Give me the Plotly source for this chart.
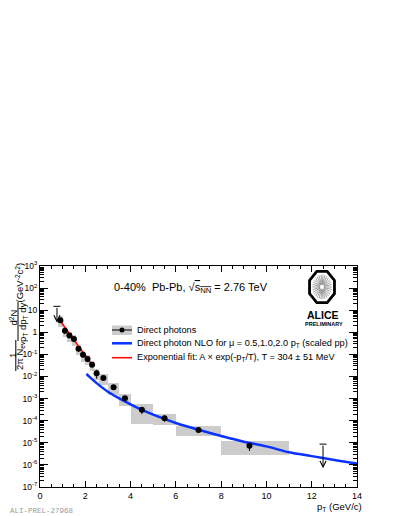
import numpy as np
import plotly.graph_objects as go

# ---------------- data ----------------
pt = [0.9, 1.1, 1.3, 1.5, 1.7, 1.9, 2.1, 2.3, 2.5, 2.8, 3.25, 3.75, 4.5, 5.5, 7.0, 9.25]
pt_lo = [0.8, 1.0, 1.2, 1.4, 1.6, 1.8, 2.0, 2.2, 2.4, 2.6, 3.0, 3.5, 4.0, 5.0, 6.0, 8.0]
pt_hi = [1.0, 1.2, 1.4, 1.6, 1.8, 2.0, 2.2, 2.4, 2.6, 3.0, 3.5, 4.0, 5.0, 6.0, 8.0, 11.0]
yield_vals = [3.5, 1.19, 0.71, 0.50, 0.18, 0.097, 0.062, 0.034, 0.014, 0.0085,
              0.0033, 0.00105, 3.1e-4, 1.3e-4, 3.8e-5, 7.3e-6]
stat_err = [0.5, 0.35, 0.15, 0.10, 0.05, 0.025, 0.015, 0.007, 0.006, 0.002,
            0.0006, 0.0002, 1.1e-4, 4e-5, 8e-6, 3e-6]
sys_err = [1.7, 0.6, 0.35, 0.25, 0.09, 0.05, 0.03, 0.017, 0.007, 0.0042,
           0.0018, 0.0006, 2.4e-4, 6.5e-5, 1.8e-5, 4.6e-6]

ul_pt = [0.75, 12.5]
ul_top = [15.0, 8.7e-6]
ul_tip = [2.7, 7.0e-7]

nlo_pt = [2.05, 2.2, 2.5, 3.0, 3.5, 4.0, 4.5, 5.0, 6.0, 7.0, 8.0, 9.0, 10.0, 11.0, 12.0, 13.0, 14.0]
nlo_y = [1.32e-2, 9.3e-3, 5.0e-3, 2.04e-3, 1.02e-3, 5.5e-4, 3.1e-4, 1.9e-4, 7.9e-5,
         3.9e-5, 2.04e-5, 1.12e-5, 6.9e-6, 3.7e-6, 2.5e-6, 1.66e-6, 1.15e-6]

fit_pt = [0.85, 2.24]
fit_y = [3.8, 0.041]

x_ticks = [0, 2, 4, 6, 8, 10, 12, 14]
y_ticks = [1e-7, 1e-6, 1e-5, 1e-4, 1e-3, 1e-2, 1e-1, 1, 10, 1e2, 1e3]
y_ticktext = ["10<sup>-7</sup>", "10<sup>-6</sup>", "10<sup>-5</sup>", "10<sup>-4</sup>",
              "10<sup>-3</sup>", "10<sup>-2</sup>", "10<sup>-1</sup>", "1", "10",
              "10<sup>2</sup>", "10<sup>3</sup>"]

# ---------------- geometry helpers ----------------
OFF = 8                      # page body margin in the browser
PW, PH = 399, 516            # page size
W, H = PW - OFF, PH - OFF    # figure size
L, R, T, B = 40, 357, 266, 487   # plot area in page pixels


def px(x):
    return (x - L) / (R - L)


def py(y):
    return (B - y) / (B - T)


FONT = "Liberation Sans, Arial, Helvetica, sans-serif"

fig = go.Figure()

# systematic boxes
lo = np.array(pt_lo)
hi = np.array(pt_hi)
yv = np.array(yield_vals)
se = np.array(sys_err)
fig.add_trace(go.Bar(
    x=(lo + hi) / 2, y=2 * se, base=yv - se, width=hi - lo,
    marker=dict(color="#cccccc", line=dict(width=0)),
    hoverinfo="skip"))

# NLO curve
fig.add_trace(go.Scatter(x=nlo_pt, y=nlo_y, mode="lines",
                         line=dict(color="#0a32ff", width=2.5, shape="spline")))

# exponential fit
fig.add_trace(go.Scatter(x=fit_pt, y=fit_y, mode="lines",
                         line=dict(color="#ff0000", width=1.5)))

# data points with statistical errors
fig.add_trace(go.Scatter(
    x=pt, y=yield_vals, mode="markers",
    marker=dict(color="black", size=6, symbol="circle"),
    error_y=dict(type="data", array=stat_err, color="black", thickness=1, width=0)))

# upper limits: cap at top
fig.add_trace(go.Scatter(x=ul_pt, y=ul_top, mode="markers",
                         marker=dict(symbol="line-ew", size=5,
                                     line=dict(color="black", width=1))))

annotations = []
shapes = []

for xu, top, tip in zip(ul_pt, ul_top, ul_tip):
    annotations.append(dict(
        x=xu, y=np.log10(tip), ax=xu, ay=np.log10(top), xref="x", yref="y",
        axref="x", ayref="y", showarrow=True, arrowhead=5, arrowsize=1.2,
        arrowwidth=1, arrowcolor="black", text=""))

# title text
annotations.append(dict(
    x=px(191), y=py(288), xref="paper", yref="paper", showarrow=False,
    text='0-40%  Pb-Pb, √<span style="text-decoration:overline">s<sub>NN</sub></span> = 2.76 TeV',
    font=dict(size=11, family=FONT), xanchor="center", yanchor="middle"))

# legend
leg_rows = [330, 343.3, 357.7]
leg_text = ["Direct photons",
            "Direct photon NLO for μ = 0.5,1.0,2.0 p<sub>T</sub> (scaled pp)",
            "Exponential fit: A × exp(-p<sub>T</sub>/T), T = 304 ± 51 MeV"]
for yy, tt in zip(leg_rows, leg_text):
    annotations.append(dict(x=px(135), y=py(yy), xref="paper", yref="paper",
                            showarrow=False, text=tt, xanchor="left", yanchor="middle",
                            font=dict(size=9.2, family=FONT)))

shapes.append(dict(type="rect", xref="paper", yref="paper", x0=px(112), x1=px(132),
                   y0=py(335), y1=py(325.5), fillcolor="#cccccc", line=dict(width=0)))
shapes.append(dict(type="line", xref="paper", yref="paper", x0=px(112), x1=px(132),
                   y0=py(330), y1=py(330), line=dict(color="black", width=1)))
shapes.append(dict(type="circle", xref="paper", yref="paper", x0=px(119.5), x1=px(124.5),
                   y0=py(332.5), y1=py(327.5), fillcolor="black", line=dict(width=0)))
shapes.append(dict(type="line", xref="paper", yref="paper", x0=px(112), x1=px(132),
                   y0=py(leg_rows[1]), y1=py(leg_rows[1]), line=dict(color="#0a32ff", width=2.5)))
shapes.append(dict(type="line", xref="paper", yref="paper", x0=px(112), x1=px(132),
                   y0=py(leg_rows[2]), y1=py(leg_rows[2]), line=dict(color="#ff0000", width=1.5)))

# ALICE logo
cx, cy, rx, ry = 322, 287, 13.5, 17
ang = np.deg2rad(22.5 + 45 * np.arange(8))
oct_path = "M " + " L ".join(f"{px(cx + rx*np.cos(a)):.5f},{py(cy + ry*np.sin(a)):.5f}" for a in ang) + " Z"
shapes.append(dict(type="path", xref="paper", yref="paper", path=oct_path,
                   line=dict(color="black", width=2.8)))
rays = np.deg2rad(np.arange(0, 360, 12))
ray_path = " ".join(
    f"M {px(cx + 2*np.cos(a)):.5f},{py(cy + 2.5*np.sin(a)):.5f} "
    f"L {px(cx + 0.72*rx*np.cos(a)):.5f},{py(cy + 0.72*ry*np.sin(a)):.5f}" for a in rays)
shapes.append(dict(type="path", xref="paper", yref="paper", path=ray_path,
                   line=dict(color="#888888", width=0.8)))
annotations.append(dict(x=px(323), y=py(314.5), xref="paper", yref="paper", showarrow=False,
                        text="<b>ALICE</b>", font=dict(size=10.5, family=FONT),
                        xanchor="center", yanchor="middle"))
annotations.append(dict(x=px(324), y=py(323.5), xref="paper", yref="paper", showarrow=False,
                        text="<b>PRELIMINARY</b>", font=dict(size=5.5, family=FONT),
                        xanchor="center", yanchor="middle"))

# y-axis title built as rotated fractions
ytitle = [
    ("1", 12, 355),
    ("2π N<sub>ev</sub>", 20, 356),
    ("d<sup>2</sup>N", 13.5, 318),
    ("p<sub>T</sub> dp<sub>T</sub> dy", 23, 322),
    ("(GeV<sup>-2</sup>c<sup>2</sup>)", 19.5, 283),
]
for tt, xx, yy in ytitle:
    annotations.append(dict(x=px(xx), y=py(yy), xref="paper", yref="paper", showarrow=False,
                            text=tt, textangle=-90, font=dict(size=9.5, family=FONT),
                            xanchor="center", yanchor="middle"))
shapes.append(dict(type="line", xref="paper", yref="paper", x0=px(15.8), x1=px(15.8),
                   y0=py(340), y1=py(371), line=dict(color="black", width=1)))
shapes.append(dict(type="line", xref="paper", yref="paper", x0=px(18), x1=px(18),
                   y0=py(302), y1=py(341), line=dict(color="black", width=1)))

# x-axis title
annotations.append(dict(x=px(364), y=py(506.5), xref="paper", yref="paper", showarrow=False,
                        text="p<sub>T</sub> (GeV/c)", font=dict(size=9.5, family=FONT),
                        xanchor="right", yanchor="middle"))

# preliminary id
annotations.append(dict(x=px(OFF), y=py(511), xref="paper", yref="paper", showarrow=False,
                        text="ALI-PREL-27968",
                        font=dict(size=7.5, family="Liberation Mono, Courier New, monospace",
                                  color="#999999"),
                        xanchor="left", yanchor="middle"))

fig.update_layout(
    width=W, height=H,
    margin=dict(l=L - OFF, r=W - (R - OFF), t=T - OFF, b=H - (B - OFF), pad=0),
    plot_bgcolor="white", paper_bgcolor="white",
    showlegend=False, barmode="overlay", bargap=0,
    font=dict(family=FONT, size=9, color="black"),
    annotations=annotations, shapes=shapes,
    xaxis=dict(range=[0, 14], tickmode="array", tickvals=x_ticks,
               ticks="inside", ticklen=6, tickwidth=1, tickcolor="black",
               showline=True, linecolor="black", linewidth=1, mirror="ticks",
               showgrid=False, zeroline=False, tickfont=dict(size=9),
               minor=dict(ticks="inside", ticklen=3, tickcolor="black",
                          tick0=0, dtick=0.5, showgrid=False)),
    yaxis=dict(type="log", range=[-7, 3], tickmode="array", tickvals=y_ticks,
               ticktext=y_ticktext, ticks="inside", ticklen=8, tickwidth=1,
               tickcolor="black", showline=True, linecolor="black", linewidth=1,
               mirror="ticks", showgrid=False, zeroline=False, tickfont=dict(size=8.5),
               minor=dict(ticks="inside", ticklen=4, tickcolor="black",
                          dtick="D1", showgrid=False)),
)

fig.write_html("out.html")
